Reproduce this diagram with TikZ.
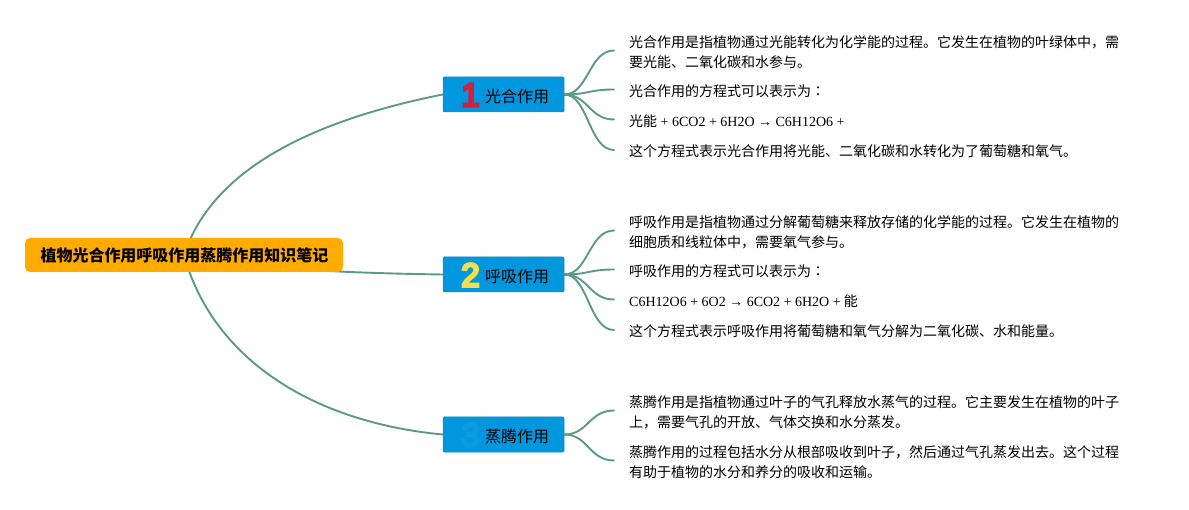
\documentclass[tikz,border=0pt]{standalone}
\usepackage{fontspec}
\setmainfont{Noto Sans CJK SC}
\newfontfamily\lat{Liberation Serif}
\newfontfamily\tcf{Noto Sans CJK TC}
\newfontfamily\numf[FakeBold=8]{Liberation Sans}
\usetikzlibrary{backgrounds,calc}
\definecolor{rootfill}{HTML}{FFAB00}
\definecolor{boxfill}{HTML}{0097DE}
\definecolor{boxline}{HTML}{1C86C0}
\definecolor{linkc}{HTML}{5B9A83}
\definecolor{numa}{HTML}{D0213F}
\definecolor{numb}{HTML}{F2DF50}
\definecolor{numc}{HTML}{0C9CE2}
\tikzset{
  x=1pt,y=-1pt,
  rootnode/.style={fill=rootfill,rounded corners=5pt,minimum width=318pt,minimum height=34pt,inner sep=0pt,font=\fontsize{16}{19}\selectfont\bfseries},
  topic/.style={fill=boxfill,draw=boxline,line width=0.5pt,rounded corners=1pt,minimum width=121pt,minimum height=35pt,inner sep=0pt},
  leaf/.style={anchor=west,inner xsep=14pt,inner ysep=0pt,align=left,font=\fontsize{14}{20}\selectfont},
  toptext/.style={font=\fontsize{16}{19}\selectfont},
  badge/.style={inner sep=0pt,font=\fontsize{33}{33}\selectfont\numf},
  link/.style={draw=linkc,line width=1.9pt,line cap=round},
}
\begin{document}
\begin{tikzpicture}
\useasboundingbox (0,0) rectangle (1189,510);
\node[rootnode] (root) at (184,255) {\hspace{1pt}植物光合作用呼吸作用蒸腾作用知识笔记};
\node[topic] (a) at (503.5,94.5) {};
\node[topic] (b) at (503.5,274.5) {};
\node[topic] (c) at (503.5,434.5) {};
\node[toptext] (at) at (517,96.5) {光合作用};
\node[toptext] (bt) at (517,276.5) {呼吸作用};
\node[toptext] (ct) at (517,436.5) {蒸腾作用};
\node[badge,text=numa] (an) at (470.5,95) {1};
\node[badge,text=numb] (bn) at (470.5,275) {2};
\node[badge,text=numc] (cn) at (470.5,435) {3};
\node[leaf] (a1) at (615,52) {光合作用是指植物通过光能转化为化学能的过程。它发生在植物的叶绿体中，需\\要光能、二氧化碳和水参与。};
\node[leaf] (a2) at (615,91) {光合作用的方程式可以表示为{\tcf ：}};
\node[leaf] (a3) at (615,121) {光能{\lat{} + 6CO2 + 6H2O → C6H12O6 +}};
\node[leaf] (a4) at (615,151.5) {这个方程式表示光合作用将光能、二氧化碳和水转化为了葡萄糖和氧气。};
\node[leaf] (b1) at (615,232) {呼吸作用是指植物通过分解葡萄糖来释放存储的化学能的过程。它发生在植物的\\细胞质和线粒体中，需要氧气参与。};
\node[leaf] (b2) at (615,271) {呼吸作用的方程式可以表示为{\tcf ：}};
\node[leaf] (b3) at (615,301) {{\lat C6H12O6 + 6O2 → 6CO2 + 6H2O +} 能};
\node[leaf] (b4) at (615,331.5) {这个方程式表示呼吸作用将葡萄糖和氧气分解为二氧化碳、水和能量。};
\node[leaf] (c1) at (615,412) {蒸腾作用是指植物通过叶子的气孔释放水蒸气的过程。它主要发生在植物的叶子\\上，需要气孔的开放、气体交换和水分蒸发。};
\node[leaf] (c2) at (615,462) {蒸腾作用的过程包括水分从根部吸收到叶子，然后通过气孔蒸发出去。这个过程\\有助于植物的水分和养分的吸收和运输。};
\begin{scope}[on background layer]
\draw[link] (root.center) .. controls (212,170) and (310,121) .. (a.west);
\draw[link] (root.center) .. controls (240,268) and (340,273) .. (b.west);
\draw[link] (root.center) .. controls (212,357) and (310,422) .. (c.west);
\foreach \p/\q in {a/a1,a/a2,a/a3,a/a4,b/b1,b/b2,b/b3,b/b4,c/c1,c/c2}{
  \draw[link] (\p.east) .. controls +(24,0) and ($(\q.west)+(-26,-1.5)$) .. ($(\q.west)+(-1,-1.5)$);
}
\end{scope}
\end{tikzpicture}
\end{document}
